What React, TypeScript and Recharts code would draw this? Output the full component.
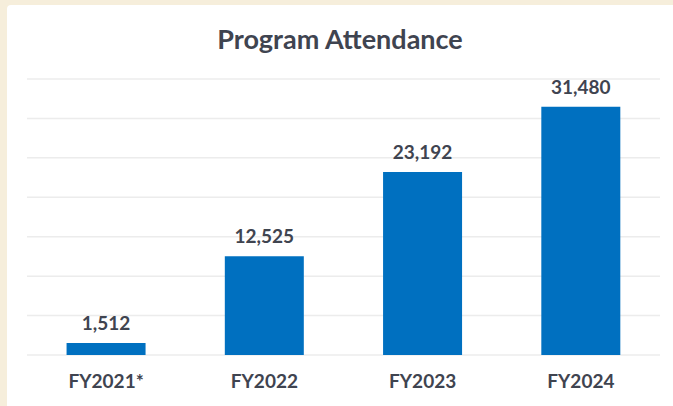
import { BarChart, Bar, XAxis, YAxis, CartesianGrid, LabelList } from "recharts";

const years = ["FY2021*", "FY2022", "FY2023", "FY2024"];
const attendance = [1512, 12525, 23192, 31480];
const yTicks = [0, 5000, 10000, 15000, 20000, 25000, 30000, 35000];

const data = years.map((year, i) => ({ year, attendance: attendance[i] }));

const FONT = "Lato, 'Open Sans', sans-serif";
const TEXT = "#3f4450";

export default function App() {
  return (
    <div
      style={{
        position: "absolute",
        left: 0,
        top: 0,
        width: 673,
        height: 406,
        background: "#f6eedb",
        overflow: "hidden",
        fontFamily: FONT,
      }}
    >
      <div
        style={{
          position: "absolute",
          left: 7,
          top: 5,
          width: 666,
          height: 401,
          background: "#ffffff",
          borderTopLeftRadius: 4,
        }}
      >
        <div
          style={{
            position: "absolute",
            top: 17,
            left: 0,
            width: "100%",
            textAlign: "center",
            fontSize: 27,
            fontWeight: 700,
            color: TEXT,
          }}
        >
          Program Attendance
        </div>
        <BarChart
          width={666}
          height={401}
          data={data}
          barCategoryGap="25%"
          margin={{ top: 74, right: 13, bottom: 11, left: 20 }}
        >
          <CartesianGrid vertical={false} stroke="#ececec" strokeWidth={1.5} />
          <YAxis hide domain={[0, 35000]} ticks={yTicks} />
          <XAxis
            dataKey="year"
            axisLine={false}
            tickLine={false}
            height={40}
            tickMargin={14}
            tick={{ fill: TEXT, fontSize: 19, fontWeight: 700, fontFamily: FONT }}
          />
          <Bar dataKey="attendance" fill="#0070c0" isAnimationActive={false}>
            <LabelList
              dataKey="attendance"
              position="top"
              offset={13}
              formatter={(v: any) => Number(v).toLocaleString("en-US")}
              style={{ fill: TEXT, fontSize: 19, fontWeight: 700, fontFamily: FONT }}
            />
          </Bar>
        </BarChart>
      </div>
    </div>
  );
}
